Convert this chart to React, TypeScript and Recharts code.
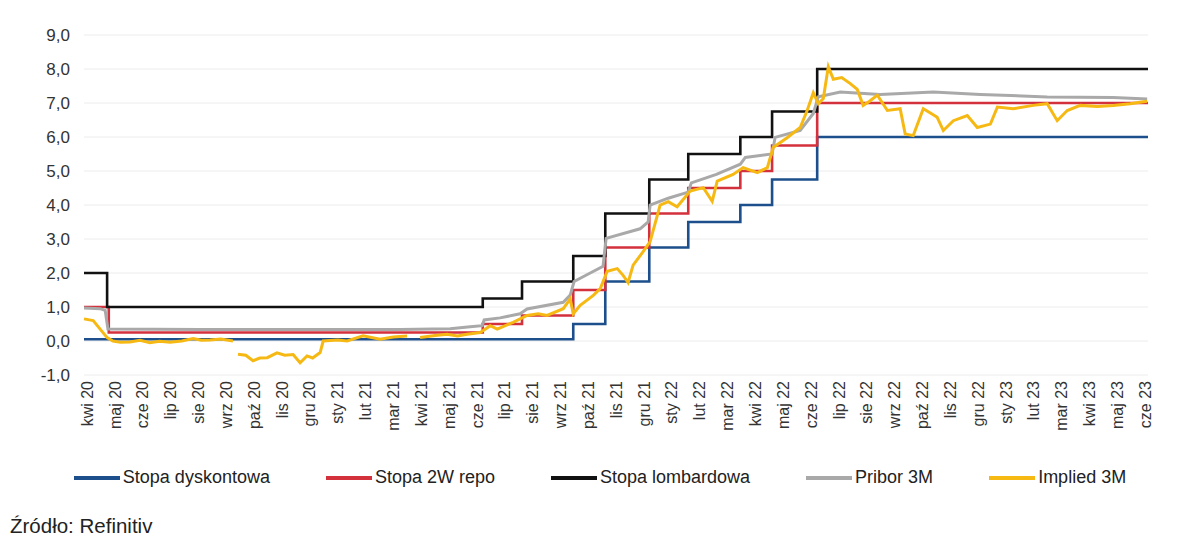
import React from "react";
import { LineChart, Line, XAxis, YAxis, CartesianGrid, Legend } from "recharts";

// x = month index (0 = kwi 20 ... 38 = cze 23)
const monthLabels = [
  "kwi 20", "maj 20", "cze 20", "lip 20", "sie 20", "wrz 20", "paź 20", "lis 20", "gru 20",
  "sty 21", "lut 21", "mar 21", "kwi 21", "maj 21", "cze 21", "lip 21", "sie 21", "wrz 21",
  "paź 21", "lis 21", "gru 21", "sty 22", "lut 22", "mar 22", "kwi 22", "maj 22", "cze 22",
  "lip 22", "sie 22", "wrz 22", "paź 22", "lis 22", "gru 22", "sty 23", "lut 23", "mar 23",
  "kwi 23", "maj 23", "cze 23",
];
const yTicks = [-1, 0, 1, 2, 3, 4, 5, 6, 7, 8, 9];

const discountRate = [
  { m: -0.11, v: 0.05 }, { m: 17.46, v: 0.5 }, { m: 18.61, v: 1.75 }, { m: 20.19, v: 2.75 },
  { m: 21.59, v: 3.5 }, { m: 23.46, v: 4.0 }, { m: 24.6, v: 4.75 }, { m: 26.22, v: 6.0 },
  { m: 38.1, v: 6.0 },
];

const repoRate = [
  { m: -0.11, v: 1.0 }, { m: 0.78, v: 0.25 }, { m: 14.21, v: 0.5 }, { m: 15.62, v: 0.75 },
  { m: 17.46, v: 1.5 }, { m: 18.61, v: 2.75 }, { m: 20.19, v: 3.75 }, { m: 21.59, v: 4.5 },
  { m: 23.46, v: 5.0 }, { m: 24.6, v: 5.75 }, { m: 26.22, v: 7.0 }, { m: 38.1, v: 7.0 },
];

const lombardRate = [
  { m: -0.11, v: 2.0 }, { m: 0.72, v: 1.0 }, { m: 14.21, v: 1.25 }, { m: 15.62, v: 1.75 },
  { m: 17.46, v: 2.5 }, { m: 18.61, v: 3.75 }, { m: 20.19, v: 4.75 }, { m: 21.59, v: 5.5 },
  { m: 23.46, v: 6.0 }, { m: 24.6, v: 6.75 }, { m: 26.22, v: 8.0 }, { m: 38.1, v: 8.0 },
];

const pribor3m = [
  { m: -0.11, v: 0.97 }, { m: 0.47, v: 0.95 }, { m: 0.65, v: 0.9 }, { m: 0.75, v: 0.35 },
  { m: 4.06, v: 0.34 }, { m: 7.65, v: 0.34 }, { m: 11.24, v: 0.34 }, { m: 13.04, v: 0.36 },
  { m: 13.76, v: 0.42 }, { m: 14.19, v: 0.45 }, { m: 14.26, v: 0.62 }, { m: 14.83, v: 0.68 },
  { m: 15.55, v: 0.8 }, { m: 15.8, v: 0.94 }, { m: 17.1, v: 1.14 }, { m: 17.35, v: 1.35 },
  { m: 17.49, v: 1.75 }, { m: 18.07, v: 2.0 }, { m: 18.53, v: 2.2 }, { m: 18.64, v: 3.02 },
  { m: 19.86, v: 3.3 }, { m: 20.15, v: 3.5 }, { m: 20.22, v: 4.0 }, { m: 20.87, v: 4.2 },
  { m: 21.59, v: 4.38 }, { m: 21.7, v: 4.65 }, { m: 22.6, v: 4.9 }, { m: 23.46, v: 5.2 },
  { m: 23.64, v: 5.4 }, { m: 24.6, v: 5.5 }, { m: 24.71, v: 5.99 }, { m: 25.61, v: 6.19 },
  { m: 26.08, v: 6.69 }, { m: 26.26, v: 7.18 }, { m: 27.05, v: 7.32 }, { m: 28.48, v: 7.25 },
  { m: 30.39, v: 7.32 }, { m: 32.08, v: 7.25 }, { m: 34.48, v: 7.18 }, { m: 36.85, v: 7.16 },
  { m: 38.07, v: 7.12 },
];

const implied3m = [
  { m: -0.11, v: 0.65 }, { m: 0.22, v: 0.6 }, { m: 0.47, v: 0.35 }, { m: 0.72, v: 0.1 },
  { m: 0.93, v: 0.0 }, { m: 1.2, v: -0.04 }, { m: 1.54, v: -0.03 }, { m: 1.9, v: 0.02 },
  { m: 2.26, v: -0.05 }, { m: 2.6, v: -0.01 }, { m: 2.98, v: -0.04 }, { m: 3.4, v: 0.0 },
  { m: 3.81, v: 0.07 }, { m: 4.1, v: 0.02 }, { m: 4.42, v: 0.03 }, { m: 4.8, v: 0.06 },
  { m: 5.24, v: 0.0 }, { m: 5.35, v: null },
  { m: 5.42, v: -0.39 }, { m: 5.7, v: -0.42 }, { m: 5.96, v: -0.58 }, { m: 6.2, v: -0.5 },
  { m: 6.47, v: -0.49 }, { m: 6.82, v: -0.35 }, { m: 7.1, v: -0.42 }, { m: 7.4, v: -0.4 },
  { m: 7.65, v: -0.64 }, { m: 7.9, v: -0.44 }, { m: 8.1, v: -0.5 }, { m: 8.37, v: -0.34 },
  { m: 8.48, v: 0.0 }, { m: 9.0, v: 0.03 }, { m: 9.34, v: 0.0 }, { m: 9.91, v: 0.15 },
  { m: 10.52, v: 0.05 }, { m: 11.0, v: 0.12 }, { m: 11.49, v: 0.15 }, { m: 11.6, v: null },
  { m: 11.96, v: 0.1 }, { m: 12.5, v: 0.16 }, { m: 12.93, v: 0.2 }, { m: 13.3, v: 0.15 },
  { m: 13.65, v: 0.2 }, { m: 14.12, v: 0.25 }, { m: 14.48, v: 0.45 },
  { m: 14.73, v: 0.35 }, { m: 15.3, v: 0.55 }, { m: 15.8, v: 0.75 }, { m: 16.2, v: 0.8 },
  { m: 16.52, v: 0.75 }, { m: 17.1, v: 0.95 }, { m: 17.35, v: 1.24 }, { m: 17.46, v: 0.8 },
  { m: 17.71, v: 1.05 }, { m: 18.18, v: 1.34 }, { m: 18.43, v: 1.54 }, { m: 18.68, v: 2.05 },
  { m: 19.04, v: 2.13 }, { m: 19.25, v: 1.93 }, { m: 19.43, v: 1.72 }, { m: 19.61, v: 2.23 },
  { m: 19.97, v: 2.63 }, { m: 20.22, v: 2.92 }, { m: 20.58, v: 4.0 }, { m: 20.87, v: 4.1 },
  { m: 21.19, v: 3.95 }, { m: 21.66, v: 4.41 }, { m: 22.13, v: 4.51 }, { m: 22.45, v: 4.11 },
  { m: 22.63, v: 4.7 }, { m: 23.2, v: 4.9 }, { m: 23.56, v: 5.1 }, { m: 24.07, v: 4.95 },
  { m: 24.43, v: 5.1 }, { m: 24.64, v: 5.69 }, { m: 25.14, v: 5.98 }, { m: 25.61, v: 6.28 },
  { m: 25.86, v: 6.78 }, { m: 26.08, v: 7.3 }, { m: 26.26, v: 6.98 }, { m: 26.44, v: 7.13 },
  { m: 26.62, v: 8.07 }, { m: 26.8, v: 7.7 }, { m: 27.1, v: 7.75 }, { m: 27.41, v: 7.57 },
  { m: 27.66, v: 7.4 }, { m: 27.87, v: 6.93 }, { m: 28.1, v: 7.05 }, { m: 28.38, v: 7.23 },
  { m: 28.74, v: 6.78 }, { m: 29.2, v: 6.83 }, { m: 29.38, v: 6.09 }, { m: 29.67, v: 6.04 },
  { m: 30.03, v: 6.83 }, { m: 30.3, v: 6.7 }, { m: 30.53, v: 6.58 }, { m: 30.75, v: 6.19 },
  { m: 31.11, v: 6.48 }, { m: 31.61, v: 6.63 }, { m: 31.97, v: 6.28 }, { m: 32.44, v: 6.38 },
  { m: 32.69, v: 6.88 }, { m: 33.26, v: 6.83 }, { m: 33.98, v: 6.93 }, { m: 34.48, v: 6.98 },
  { m: 34.84, v: 6.48 }, { m: 35.2, v: 6.78 }, { m: 35.67, v: 6.93 }, { m: 36.28, v: 6.9 },
  { m: 36.85, v: 6.93 }, { m: 37.46, v: 6.98 }, { m: 38.07, v: 7.05 },
];

const series = [
  { key: "disc", name: "Stopa dyskontowa", data: discountRate, color: "#1c4f8c", type: "stepAfter", w: 2.6 },
  { key: "repo", name: "Stopa 2W repo", data: repoRate, color: "#d3313c", type: "stepAfter", w: 2.6 },
  { key: "lomb", name: "Stopa lombardowa", data: lombardRate, color: "#111111", type: "stepAfter", w: 2.6 },
  { key: "pribor", name: "Pribor 3M", data: pribor3m, color: "#a9a9a9", type: "linear", w: 3 },
  { key: "implied", name: "Implied 3M", data: implied3m, color: "#f6b913", type: "linear", w: 3 },
];

const font = "'Liberation Sans', Arial, sans-serif";

function MonthTick(props: any) {
  const { x, y, payload } = props;
  const ty = y + 4;
  return (
    <text
      x={x}
      y={ty}
      transform={`rotate(-90 ${x} ${ty})`}
      textAnchor="end"
      dy="0.35em"
      fontSize={16}
      fill="#333"
      fontFamily={font}
    >
      {monthLabels[payload.value]}
    </text>
  );
}

function renderLegend() {
  return (
    <div style={{ display: "flex", justifyContent: "center", gap: 56, fontFamily: font, fontSize: 18, color: "#222" }}>
      {series.map((s) => (
        <div key={s.key} style={{ display: "flex", alignItems: "center" }}>
          <span style={{ display: "inline-block", width: 46, height: 4, background: s.color, marginRight: 3 }} />
          <span>{s.name}</span>
        </div>
      ))}
    </div>
  );
}

export default function App() {
  return (
    <div style={{ width: 1184, fontFamily: font }}>
      <LineChart width={1184} height={480} margin={{ top: 27, right: 44, left: 0, bottom: 0 }}>
        <CartesianGrid horizontal vertical={false} stroke="#ececec" />
        <XAxis
          type="number"
          dataKey="m"
          domain={[-0.11, 38.1]}
          ticks={monthLabels.map((_, i) => i)}
          interval={0}
          tick={<MonthTick />}
          tickLine={false}
          axisLine={false}
          tickSize={0}
          height={92}
          allowDuplicatedCategory={false}
        />
        <YAxis
          type="number"
          domain={[-1, 9]}
          ticks={yTicks}
          width={76}
          tickLine={false}
          axisLine={false}
          tickSize={0}
          tickMargin={14}
          tickFormatter={(v: number) => v.toFixed(1).replace(".", ",")}
          tick={{ fontSize: 17, fill: "#333", fontFamily: font }}
        />
        <Legend verticalAlign="bottom" content={renderLegend} wrapperStyle={{ left: 0, width: 1184 }} />
        {series.map((s) => (
          <Line
            key={s.key}
            data={s.data}
            dataKey="v"
            name={s.name}
            type={s.type as any}
            stroke={s.color}
            strokeWidth={s.w}
            dot={false}
            activeDot={false}
            connectNulls={false}
            isAnimationActive={false}
          />
        ))}
      </LineChart>
      <div style={{ marginTop: 26, fontSize: 20.5, color: "#222", marginLeft: 2 }}>Źródło: Refinitiv</div>
    </div>
  );
}
